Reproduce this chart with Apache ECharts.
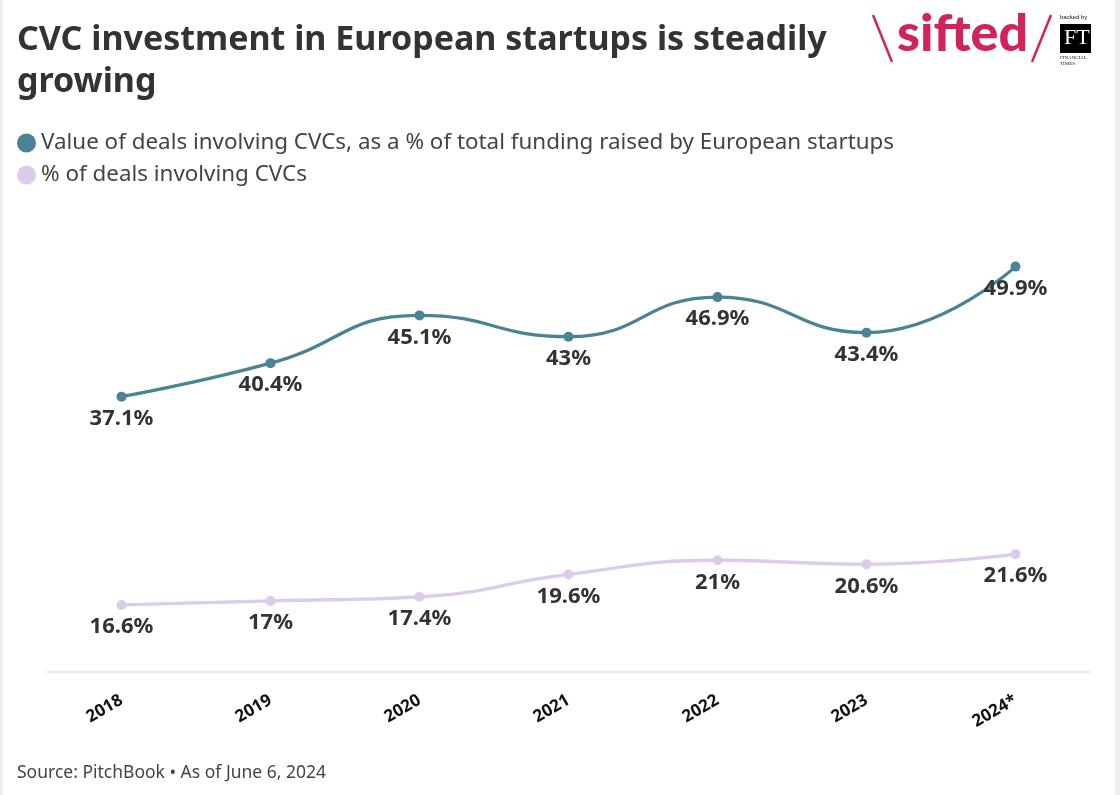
<!DOCTYPE html>
<html><head><meta charset="utf-8">
<script src="https://cdn.jsdelivr.net/npm/echarts@6/dist/echarts.min.js"></script>
<style>html,body{margin:0;padding:0;background:#fff}#c{width:1120px;height:795px}</style>
</head><body><div id="c"></div>
<script>
const years = ['2018','2019','2020','2021','2022','2023','2024*'];
const valueShare = [37.1, 40.4, 45.1, 43, 46.9, 43.4, 49.9];
const dealShare = [16.6, 17, 17.4, 19.6, 21, 20.6, 21.6];
const seriesNames = ['Value of deals involving CVCs, as a % of total funding raised by European startups', '% of deals involving CVCs'];
const FONT = '"Source Sans Pro","Noto Sans","Open Sans",sans-serif';
const teal = '#4a8394', lav = '#dccbea';
const chart = echarts.init(document.getElementById('c'));
const lbl = {show: true, position: 'bottom', distance: 6, formatter: p => p.value + '%',
  fontFamily: FONT, fontSize: 22, fontWeight: 'bold', color: '#333'};
chart.setOption({
  animation: false,
  backgroundColor: '#fff',
  textStyle: {fontFamily: FONT},
  title: {
    text: 'CVC investment in European startups is steadily\ngrowing',
    left: 12, top: 14,
    textStyle: {fontFamily: FONT, fontSize: 34, fontWeight: 'bold', color: '#333', lineHeight: 42}
  },
  legend: {
    orient: 'vertical', left: 17, top: 132, itemGap: 10, padding: 0,
    icon: 'circle', itemWidth: 19, itemHeight: 19, itemStyle: {borderWidth: 0},
    textStyle: {fontFamily: FONT, fontSize: 22.4, color: '#444'},
    data: seriesNames, selectedMode: false
  },
  grid: {left: 47, right: 30, top: 164, bottom: 123},
  xAxis: {
    type: 'category', data: years, boundaryGap: true,
    axisLine: {lineStyle: {color: '#eaeaea', width: 2}},
    axisTick: {alignWithLabel: true, length: 10, lineStyle: {color: '#eaeaea', width: 2}},
    axisLabel: {rotate: 30, margin: 27, fontFamily: FONT, fontSize: 17, fontWeight: 'bold', color: '#111'}
  },
  yAxis: {type: 'value', min: 10, max: 60, show: false, splitLine: {show: false}},
  series: [
    {name: seriesNames[0], type: 'line', data: valueShare, smooth: 0.5,
     symbol: 'circle', symbolSize: 10, color: teal,
     lineStyle: {width: 3.3, color: teal}, itemStyle: {color: teal}, label: lbl},
    {name: seriesNames[1], type: 'line', data: dealShare, smooth: 0.5,
     symbol: 'circle', symbolSize: 10, color: lav,
     lineStyle: {width: 3.3, color: lav}, itemStyle: {color: lav}, label: lbl}
  ],
  graphic: [
    {type: 'rect', left: 0, top: 0, shape: {width: 3, height: 795}, style: {fill: '#eeeeee'}},
    {type: 'rect', left: 1115, top: 0, shape: {width: 5, height: 795}, style: {fill: '#eeeeee'}},
    {type: 'text', left: 17, top: 764, style: {text: 'Source: PitchBook • As of June 6, 2024', font: '17.5px ' + FONT, fill: '#444'}},
    {type: 'line', shape: {x1: 873, y1: 15, x2: 892, y2: 62}, style: {stroke: '#d1245b', lineWidth: 2.5}},
    {type: 'line', shape: {x1: 1051, y1: 15, x2: 1032, y2: 62}, style: {stroke: '#d1245b', lineWidth: 2.5}},
    {type: 'text', left: 897, top: 8, style: {text: 'sifted', font: '900 52px Lato, sans-serif', fill: '#d1245b'}},
    {type: 'text', left: 1060, top: 14, style: {text: 'backed by', font: '6px sans-serif', fill: '#111'}},
    {type: 'rect', left: 1060, top: 24, shape: {width: 31, height: 29}, style: {fill: '#000'}},
    {type: 'text', left: 1064, top: 27, style: {text: 'FT', font: '22px "Liberation Serif", serif', fill: '#fff'}},
    {type: 'text', left: 1060, top: 55, style: {text: 'FINANCIAL\nTIMES', font: '5px "Liberation Serif", serif', fill: '#111', lineHeight: 6}}
  ]
});
</script></body></html>
